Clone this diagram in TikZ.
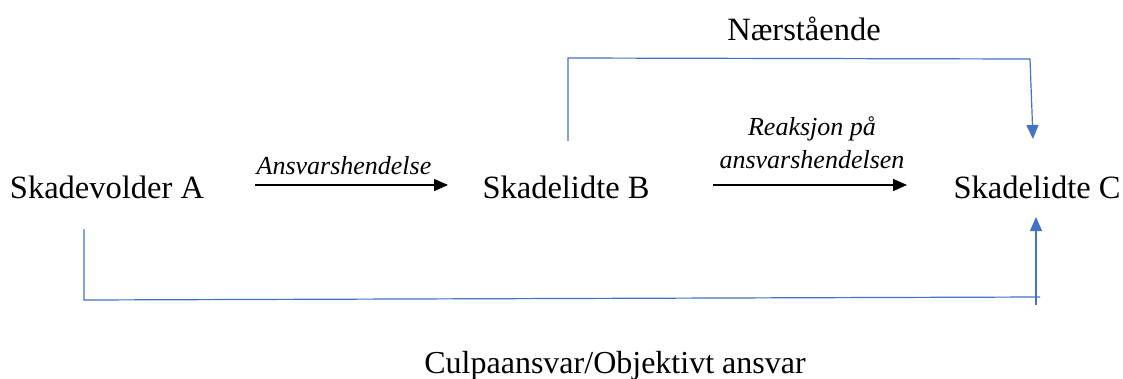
\documentclass[tikz,border=0pt]{standalone}
\usepackage{fontspec}
\setmainfont{Liberation Serif}
\usetikzlibrary{arrows.meta}
\definecolor{ramme}{HTML}{4472C4}
\tikzset{
    part/.style={anchor=base, inner sep=0pt, font=\fontsize{32.5}{38}\selectfont},
    etikett/.style={anchor=base, inner sep=0pt, font=\fontsize{26}{31}\selectfont\itshape},
    svartpil/.style={line width=1.4pt, -{Triangle[length=14pt, width=12pt]}},
    blaalinje/.style={ramme, line width=1.2pt},
    blaapil/.style={blaalinje, -{Triangle[length=14pt, width=12pt]}}
}
\begin{document}
\begin{tikzpicture}[x=1pt, y=-1pt]
            \useasboundingbox (0,0) rectangle (1123,378);

            \node[part] (A) at (107,198) {Skadevolder A};
            \node[part] (B) at (566,198) {Skadelidte B};
            \node[part] (C) at (1037,198) {Skadelidte C};

            \node[part] (naer) at (804,40) {Nærstående};
            \node[part, font=\fontsize{32}{38}\selectfont] (culpa) at (615,373) {Culpaansvar/Objektivt ansvar};

                % svarte piler mellom partene
            \coordinate (a1) at (255,185);
            \coordinate (a2) at (448,185);
            \coordinate (b1) at (713,185);
            \coordinate (b2) at (907,185);
            \draw[svartpil] (a1) -- (a2);
            \draw[svartpil] (b1) -- (b2);

            \node[etikett] (ansvar) at (344,174) {Ansvarshendelse};
            \node[etikett] (reak1) at (812,135) {Reaksjon på};
            \node[etikett] (reak2) at (812,168) {ansvarshendelsen};

                % blå linje -- øverst
            \coordinate (t1) at (568,141);
            \coordinate (t2) at (568,58);
            \coordinate (t3) at (1030,59);
            \coordinate (t4) at (1033,139);
            \draw[blaapil] (t1) -- (t2) -- (t3) -- (t4);

                % blå linje -- nederst
            \coordinate (n1) at (84,229);
            \coordinate (n2) at (84,300);
            \coordinate (n3) at (1040,297);
            \coordinate (n4) at (1036,305);
            \coordinate (n5) at (1036,217);
            \draw[blaalinje] (n1) -- (n2) -- (n3);
            \draw[blaapil] (n4) -- (n5);
        \end{tikzpicture}
\end{document}
